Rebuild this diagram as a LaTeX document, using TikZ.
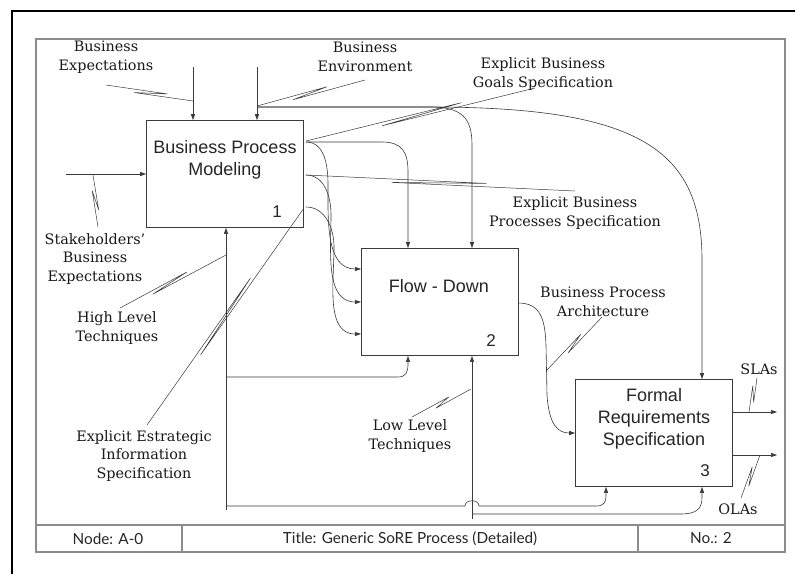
\documentclass[tikz,border=0pt]{standalone}
\usepackage{fontspec}
\setmainfont{DejaVu Serif}
\newfontfamily\boxfont{Liberation Sans}
\newfontfamily\footfont{Lato}
\usetikzlibrary{arrows.meta,calc}
\definecolor{lnc}{HTML}{3A3A3A}
\definecolor{frm}{HTML}{8C8C8C}
\tikzset{
  conn/.style={draw=lnc,line width=0.6pt},
  arr/.style={-{Triangle[length=6pt,width=4pt]}},
  leadline/.style={draw=lnc,line width=0.5pt,line join=round},
  proc/.style={draw=lnc,line width=0.7pt,rectangle,minimum width=157pt,minimum height=107pt,inner sep=0pt},
  boxtxt/.style={font=\boxfont\fontsize{18}{22}\selectfont,text=black!85,align=center,inner sep=0pt},
  numtxt/.style={font=\boxfont\fontsize{17}{20}\selectfont,text=black!85,inner sep=0pt},
  lbl/.style={font=\fontsize{14.4}{18.5}\selectfont,text=black!90,align=center,inner sep=0pt},
  foot/.style={font=\footfont\fontsize{15.3}{17}\selectfont,text=black!85,inner sep=0pt},
  frame/.style={draw=frm,line width=1.1pt}
}
\newcommand{\ldr}[4]{\draw[leadline] (#1) -- ($(#1)!#4!(#2)!2.3pt!90:(#2)$) -- ($(#1)!#3!(#2)!2.3pt!-90:(#2)$) -- (#2);}
\begin{document}
\begin{tikzpicture}[x=1pt,y=-1pt]
\useasboundingbox (0,0) rectangle (795,574);
\fill[white] (0,0) rectangle (795,574);
% outer and inner frames
\draw[line width=2pt,black] (12,574) -- (12,11) -- (795,11);
\draw[frame] (36,39) rectangle (785,552);
\draw[frame] (36,525) -- (785,525);
\draw[frame] (182,525) -- (182,552);
\draw[frame] (638,525) -- (638,552);
\node[foot] (fnode) at (108,538.5) {Node: A-0};
\node[foot] (ftitle) at (410,538.5) {Title: Generic SoRE Process (Detailed)};
\node[foot] (fno) at (711,538.5) {No.: 2};
% boxes
\node[proc] (b1) at (225,174) {};
\node[proc] (b2) at (439.5,302) {};
\node[proc] (b3) at (654,433) {};
\node[boxtxt] (t1) at (225,160) {Business Process\\Modeling};
\node[boxtxt] (t2) at (439,286) {Flow - Down};
\node[boxtxt] (t3) at (654,419) {Formal\\Requirements\\Specification};
\node[numtxt] (n1) at (277,212) {1};
\node[numtxt] (n2) at (491,341) {2};
\node[numtxt] (n3) at (705,471) {3};
% labels
\node[lbl] (lbe) at (106,57) {Business\\Expectations};
\node[lbl] (lenv) at (365,57) {Business\\Environment};
\node[lbl] (lgoal) at (543,74) {Explicit Business\\Goals Specification};
\node[lbl] (lproc) at (575,213) {Explicit Business\\Processes Specification};
\node[lbl] (lstk) at (95,259) {Stakeholders'\\Business\\Expectations};
\node[lbl] (lhigh) at (117,328) {High Level\\Techniques};
\node[lbl] (lstr) at (144,456) {Explicit Estrategic\\Information\\Specification};
\node[lbl] (llow) at (410,436) {Low Level\\Techniques};
\node[lbl] (larch) at (603,302) {Business Process\\Architecture};
\node[lbl] (lsla) at (759,369) {SLAs};
\node[lbl] (lola) at (738,509) {OLAs};
% port coordinates
\coordinate (cBE) at (193,67);
\coordinate (cEN) at (257,67);
\coordinate (jEN) at (257,107);
\coordinate (o1a) at (306,142);
\coordinate (o1b) at (306,175);
\coordinate (o1c) at (306,207);
\coordinate (iStk) at (66,174);
\coordinate (mB) at (226,510);
\coordinate (mL) at (472,519);
% controls into box 1
\draw[conn,arr] (cBE) -- (cBE |- b1.north);
\draw[conn,arr] (cEN) -- (cEN |- b1.north);
% business environment to box 2 and box 3
\draw[conn,arr] (jEN) -- (430,107) .. controls (462,107) and (472,118) .. (472,145) -- (472,145 |- b2.north);
\draw[conn,arr] (jEN) -- (430,107) .. controls (640,107) and (702,150) .. (702,260) -- (702,260 |- b3.north);
% input to box 1
\draw[conn,arr] (iStk) -- (iStk -| b1.west);
% outputs of box 1
\draw[conn,arr] (o1a) -- (382,142) .. controls (402,142) and (408,152) .. (408,172) -- (408,172 |- b2.north);
\draw[conn,arr] (o1a) to[out=0,in=90] (328,185) to[out=-90,in=180] (361,269);
\draw[conn,arr] (o1b) to[out=0,in=90] (331,215) to[out=-90,in=180] (361,302);
\draw[conn,arr] (o1c) to[out=0,in=90] (334,247) to[out=-90,in=180] (361,334);
% mechanisms
\draw[conn,arr] (mB) -- (mB |- b1.south);
\draw[conn,arr] (226,377) -- (398,377) .. controls (406,377) and (408,372) .. (408,364) -- (408,364 |- b2.south);
\draw[conn,arr] (226,506) -- (465,506) .. controls (465,499) and (479,499) .. (479,506) -- (596,506) .. controls (604,506) and (606,502) .. (606,496) -- (606,496 |- b3.south);
\draw[conn,arr] (mL) -- (mL |- b2.south);
\draw[conn,arr] (472,514) -- (680,514) .. controls (698,514) and (702,508) .. (702,497) -- (702,497 |- b3.south);
% box 2 to box 3
\draw[conn,arr] (518,303) .. controls (540,303) and (545,318) .. (546,345) -- (547,395) .. controls (549,425) and (558,433) .. (b3.west);
% outputs of box 3
\draw[conn,arr] (733,412) -- (777,412);
\draw[conn,arr] (733,455) -- (777,455);
% leader lines with squiggles
\coordinate (a1) at (106,85); \coordinate (a2) at (193,101);
\ldr{a1}{a2}{0.33}{0.70}
\coordinate (e1) at (257,106); \coordinate (e2) at (365,80);
\ldr{e1}{e2}{0.33}{0.65}
\coordinate (g1) at (306,141); \coordinate (g2) at (535,88);
\ldr{g1}{g2}{0.33}{0.68}
\coordinate (p1) at (306,175); \coordinate (p2) at (575,191);
\ldr{p1}{p2}{0.32}{0.67}
\coordinate (s1) at (93,175); \coordinate (s2) at (98,227);
\ldr{s1}{s2}{0.30}{0.67}
\coordinate (h1) at (226,255); \coordinate (h2) at (120,308);
\ldr{h1}{h2}{0.36}{0.70}
\coordinate (x1) at (304,208); \coordinate (x2) at (147,425);
\ldr{x1}{x2}{0.33}{0.67}
\coordinate (w1) at (471,389); \coordinate (w2) at (412,417);
\ldr{w1}{w2}{0.36}{0.61}
\coordinate (r1) at (547,370); \coordinate (r2) at (602,317);
\ldr{r1}{r2}{0.36}{0.64}
\coordinate (q1) at (749,412); \coordinate (q2) at (757,378);
\ldr{q1}{q2}{0.30}{0.75}
\coordinate (k1) at (760,455); \coordinate (k2) at (741,498);
\ldr{k1}{k2}{0.30}{0.70}
\end{tikzpicture}
\end{document}
